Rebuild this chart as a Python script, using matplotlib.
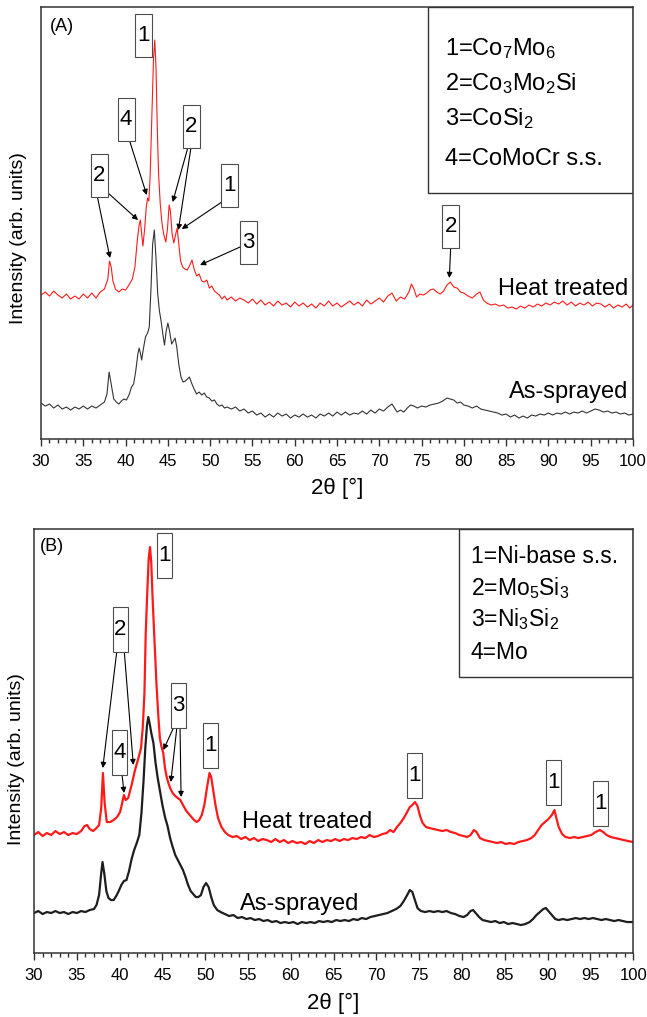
"""XRD patterns of sprayed coatings, as-sprayed vs heat treated (two panels)."""

import matplotlib

matplotlib.use("Agg")
import matplotlib.pyplot as plt
from matplotlib.patches import Rectangle
from matplotlib.ticker import MultipleLocator
from matplotlib.transforms import ScaledTranslation

plt.rcParams["font.family"] = ["Liberation Sans", "DejaVu Sans"]
plt.rcParams["mathtext.default"] = "regular"

# ---- panel A data (2theta in degrees, intensity in arb. units) ----
a_heat_x = [
    30.0, 30.5, 31.0, 31.5, 32.0, 32.5, 33.0, 33.5, 34.0, 34.5, 35.0, 35.5, 36.0, 36.5,
    37.0, 37.5, 37.9, 38.1, 38.3, 38.5, 38.8, 39.2, 39.6, 40.0, 40.4, 40.8, 41.1, 41.4,
    41.6, 41.75, 41.9, 42.05, 42.25, 42.45, 42.6, 42.75, 42.9, 43.1, 43.3, 43.45, 43.6,
    43.75, 43.9, 44.1, 44.3, 44.5, 44.75, 44.95, 45.15, 45.3, 45.5, 45.7, 45.9, 46.1,
    46.3, 46.5, 46.75, 47.0, 47.3, 47.6, 47.85, 48.1, 48.4, 48.7, 49.0, 49.3, 49.6, 49.9,
    50.2, 50.5, 50.8, 51.1, 51.4, 51.7, 52.0, 52.5, 53.0, 53.5, 54.0, 54.5, 55.0, 55.5,
    56.0, 56.5, 57.0, 57.5, 58.0, 58.5, 59.0, 59.5, 60.0, 60.5, 61.0, 61.5, 62.0, 62.5,
    63.0, 63.5, 64.0, 64.5, 65.0, 65.5, 66.0, 66.5, 67.0, 67.5, 68.0, 68.5, 69.0, 69.5,
    70.0, 70.5, 71.0, 71.5, 72.0, 72.5, 73.0, 73.5, 73.8, 74.1, 74.4, 74.8, 75.2, 75.6,
    76.0, 76.4, 76.8, 77.2, 77.6, 78.0, 78.4, 78.8, 79.2, 79.6, 80.0, 80.5, 81.0, 81.5,
    81.9, 82.3, 82.7, 83.2, 83.7, 84.2, 84.7, 85.2, 85.7, 86.2, 86.7, 87.2, 87.7, 88.2,
    88.7, 89.2, 89.7, 90.2, 90.7, 91.2, 91.7, 92.2, 92.7, 93.2, 93.7, 94.2, 94.7, 95.2,
    95.7, 96.2, 96.7, 97.2, 97.7, 98.2, 98.7, 99.2, 99.6, 100.0,
]
a_heat_y = [
    144, 147, 143, 148, 144, 141, 145, 140, 143, 140, 145, 141, 146, 141,
    147, 150, 160, 178, 172, 158, 150, 147, 150, 149, 154, 160, 172, 200,
    214, 219, 205, 193, 210, 232, 241, 238, 262, 320, 380, 399, 370,
    310, 265, 235, 216, 205, 197, 210, 234, 228, 205, 196, 204, 211,
    195, 178, 172, 170, 169, 174, 179, 170, 163, 165, 158, 157, 159, 151,
    153, 148, 146, 144, 140, 143, 139, 142, 138, 141, 139, 136, 140, 135,
    139, 134, 137, 133, 138, 134, 136, 132, 137, 133, 136, 132, 135, 131,
    136, 133, 138, 133, 136, 132, 135, 138, 134, 137, 133, 139, 135, 138,
    141, 137, 143, 146, 138, 142, 140, 147, 155, 150, 142, 145, 144, 146,
    149, 150, 147, 145, 148, 154, 157, 152, 151, 147, 146, 143, 141, 145,
    147, 139, 136, 134, 135, 133, 134, 131, 132, 130, 133, 131, 134, 132,
    135, 133, 136, 134, 137, 135, 138, 134, 137, 133, 136, 134, 137, 133,
    136, 135, 132, 135, 131, 134, 132, 135, 131, 134,
]
a_sprayed_x = [
    30.0, 30.5, 31.0, 31.5, 32.0, 32.5, 33.0, 33.5, 34.0, 34.5, 35.0, 35.5, 36.0, 36.5,
    37.0, 37.5, 37.8, 38.05, 38.3, 38.6, 38.9, 39.2, 39.5, 39.8, 40.1, 40.4, 40.7, 40.95,
    41.2, 41.45, 41.6, 41.75, 41.9, 42.1, 42.35, 42.6, 42.8, 43.0, 43.2, 43.4, 43.6, 43.8,
    44.0, 44.2, 44.4, 44.6, 44.8, 45.0, 45.2, 45.45, 45.65, 45.85, 46.05, 46.3, 46.55,
    46.8, 47.05, 47.3, 47.55, 47.8, 48.1, 48.4, 48.7, 49.0, 49.3, 49.6, 49.9, 50.2, 50.5,
    50.8, 51.1, 51.4, 51.7, 52.0, 52.5, 53.0, 53.5, 54.0, 54.5, 55.0, 55.5, 56.0, 56.5,
    57.0, 57.5, 58.0, 58.5, 59.0, 59.5, 60.0, 60.5, 61.0, 61.5, 62.0, 62.5, 63.0, 63.5,
    64.0, 64.5, 65.0, 65.5, 66.0, 66.5, 67.0, 67.5, 68.0, 68.5, 69.0, 69.5, 70.0, 70.5,
    71.0, 71.5, 71.8, 72.1, 72.5, 72.9, 73.3, 73.7, 74.1, 74.5, 75.0, 75.5, 76.0, 76.5,
    77.0, 77.5, 78.0, 78.4, 78.8, 79.2, 79.6, 80.0, 80.5, 81.0, 81.5, 82.0, 82.5, 83.0,
    83.5, 84.0, 84.5, 85.0, 85.5, 86.0, 86.5, 87.0, 87.5, 88.0, 88.5, 89.0, 89.5, 90.0,
    90.5, 91.0, 91.5, 92.0, 92.5, 93.0, 93.5, 94.0, 94.5, 95.0, 95.5, 96.0, 96.5, 97.0,
    97.5, 98.0, 98.5, 99.0, 99.5, 100.0,
]
a_sprayed_y = [
    36, 33, 35, 31, 34, 30, 32, 29, 32, 30, 33, 30, 33, 31,
    34, 37, 45, 67, 55, 40, 37, 35, 38, 40, 39, 44, 52, 55,
    68, 85, 91, 86, 79, 90, 102, 106, 112, 150, 195, 209, 180, 145,
    128, 118, 105, 94, 108, 116, 108, 95, 98, 101, 92, 74, 62,
    57, 58, 60, 62, 56, 50, 45, 47, 44, 46, 42, 41, 38, 39,
    35, 33, 34, 31, 32, 30, 32, 28, 30, 26, 28, 24, 26, 22,
    25, 22, 26, 23, 25, 21, 24, 22, 25, 22, 24, 21, 25, 23,
    26, 23, 27, 24, 27, 24, 26, 25, 28, 25, 29, 26, 30, 28,
    32, 35, 31, 27, 29, 27, 31, 34, 33, 31, 33, 32, 34, 35,
    36, 38, 41, 40, 39, 36, 37, 34, 33, 31, 33, 30, 29, 28,
    27, 26, 24, 25, 22, 24, 21, 23, 21, 24, 23, 25, 24, 26,
    24, 26, 25, 27, 25, 27, 26, 28, 26, 28, 30, 29, 27, 28,
    26, 27, 25, 26, 24, 25,
]

# ---- panel B data ----
b_heat_x = [
    30.0, 30.5, 31.0, 31.5, 32.0, 32.5, 33.0, 33.5, 34.0, 34.5, 35.0, 35.5, 35.9, 36.2,
    36.5, 36.9, 37.3, 37.6, 37.85, 38.05, 38.25, 38.5, 38.9, 39.3, 39.7, 40.05, 40.3,
    40.5, 40.7, 41.0, 41.4, 41.8, 42.2, 42.5, 42.7, 42.9, 43.05, 43.25, 43.4, 43.55, 43.7,
    43.85, 44.05, 44.3, 44.5, 44.7, 44.9, 45.1, 45.3, 45.5, 45.7, 45.9, 46.2, 46.5, 46.8,
    47.1, 47.4, 47.8, 48.1, 48.4, 48.7, 49.0, 49.3, 49.6, 49.9, 50.2, 50.5, 50.7, 50.95,
    51.2, 51.5, 51.9, 52.3, 52.7, 53.2, 53.7, 54.2, 54.7, 55.2, 55.7, 56.2, 56.7, 57.2,
    57.7, 58.2, 58.7, 59.2, 59.7, 60.2, 60.7, 61.2, 61.7, 62.2, 62.7, 63.2, 63.7, 64.2,
    64.7, 65.2, 65.7, 66.2, 66.7, 67.2, 67.7, 68.2, 68.7, 69.2, 69.7, 70.2, 70.7, 71.2,
    71.6, 72.0, 72.4, 72.8, 73.2, 73.6, 73.9, 74.2, 74.5, 74.8, 75.1, 75.4, 75.8, 76.2,
    76.7, 77.2, 77.7, 78.2, 78.7, 79.2, 79.7, 80.2, 80.6, 81.0, 81.4, 81.7, 82.1, 82.6,
    83.1, 83.6, 84.1, 84.6, 85.1, 85.6, 86.1, 86.6, 87.1, 87.6, 88.1, 88.5, 88.9, 89.3,
    89.7, 90.1, 90.5, 90.8, 91.0, 91.3, 91.7, 92.1, 92.6, 93.1, 93.6, 94.1, 94.6, 95.1,
    95.6, 96.1, 96.5, 96.9, 97.4, 97.9, 98.4, 98.9, 99.4, 100.0,
]
b_heat_y = [
    118, 121, 117, 120, 118, 122, 119, 121, 118, 120, 119, 122, 127, 128,
    124, 122, 125, 128, 145, 180, 150, 131, 131, 133, 136, 141, 150,
    158, 153, 155, 168, 183, 195, 205, 225, 260, 320, 365, 395, 406, 390,
    355, 318, 270, 240, 215, 206, 200, 185, 176, 170, 165, 160, 157, 155,
    153, 148, 142, 139, 136, 133, 131, 133, 138, 148, 165, 180, 176, 162,
    148, 135, 126, 121, 118, 116, 117, 114, 116, 113, 115, 112, 114, 113,
    111, 114, 111, 113, 110, 112, 110, 111, 109, 112, 110, 113, 111, 113,
    112, 114, 112, 114, 113, 115, 114, 116, 115, 118, 116, 117, 119, 120,
    123, 121, 126, 130, 135, 141, 146, 148, 151, 147, 137, 130, 126, 125,
    124, 123, 122, 123, 121, 120, 118, 117, 116, 118, 123, 121, 115, 113,
    112, 111, 110, 111, 109, 110, 109, 111, 112, 113, 115, 118, 123, 128,
    131, 134, 138, 143, 136, 126, 119, 116, 115, 116, 115, 116, 117, 118,
    121, 123, 121, 118, 116, 115, 114, 113, 112, 111,
]
b_sprayed_x = [
    30.0, 30.5, 31.0, 31.5, 32.0, 32.5, 33.0, 33.5, 34.0, 34.5, 35.0, 35.5, 36.0, 36.5,
    37.0, 37.3, 37.6, 37.85, 38.0, 38.2, 38.45, 38.7, 39.0, 39.3, 39.6, 39.9, 40.2, 40.5,
    40.8, 41.1, 41.4, 41.7, 42.0, 42.3, 42.55, 42.8, 43.0, 43.2, 43.35, 43.5, 43.7, 43.95,
    44.2, 44.45, 44.7, 45.0, 45.3, 45.6, 45.9, 46.2, 46.5, 46.8, 47.1, 47.4, 47.7, 48.0,
    48.3, 48.6, 48.9, 49.2, 49.5, 49.8, 50.1, 50.4, 50.7, 51.0, 51.4, 51.8, 52.3, 52.8,
    53.3, 53.8, 54.3, 54.8, 55.3, 55.8, 56.3, 56.8, 57.3, 57.8, 58.3, 58.8, 59.3, 59.8,
    60.3, 60.8, 61.3, 61.8, 62.3, 62.8, 63.3, 63.8, 64.3, 64.8, 65.3, 65.8, 66.3, 66.8,
    67.3, 67.8, 68.3, 68.8, 69.3, 69.8, 70.3, 70.8, 71.3, 71.8, 72.3, 72.8, 73.2, 73.6,
    73.9, 74.2, 74.5, 74.8, 75.2, 75.7, 76.2, 76.7, 77.2, 77.7, 78.2, 78.7, 79.2, 79.7,
    80.2, 80.6, 81.0, 81.3, 81.6, 82.0, 82.4, 82.9, 83.4, 83.9, 84.4, 84.9, 85.4, 85.9,
    86.4, 86.9, 87.4, 87.9, 88.3, 88.7, 89.1, 89.5, 89.8, 90.1, 90.5, 90.9, 91.3, 91.8,
    92.3, 92.8, 93.3, 93.8, 94.3, 94.8, 95.3, 95.8, 96.3, 96.8, 97.3, 97.8, 98.3, 98.8,
    99.3, 100.0,
]
b_sprayed_y = [
    40, 42, 39, 41, 40, 42, 40, 41, 39, 41, 40, 42, 41, 43,
    44, 48, 58, 80, 91, 80, 62, 55, 53, 53, 57, 62, 68, 72,
    73, 82, 94, 103, 110, 118, 140, 173, 205, 228, 236, 230, 220, 210,
    190, 175, 163, 148, 136, 127, 115, 106, 98, 93, 88, 83, 76, 68,
    62, 59, 56, 56, 58, 66, 70, 66, 56, 48, 43, 41, 39, 37,
    38, 35, 36, 34, 35, 33, 34, 32, 33, 31, 32, 30, 31, 30,
    31, 29, 31, 30, 31, 30, 32, 31, 32, 31, 33, 32, 33, 32,
    34, 33, 35, 34, 36, 37, 38, 39, 40, 42, 44, 47, 52, 58,
    63, 61, 53, 45, 42, 41, 42, 41, 42, 41, 42, 40, 39, 37,
    36, 38, 42, 43, 40, 36, 33, 32, 31, 32, 30, 31, 29, 30,
    29, 28, 29, 31, 34, 38, 41, 44, 45, 42, 38, 34, 33, 34,
    33, 34, 35, 34, 35, 34, 35, 34, 33, 34, 33, 32, 33, 32,
    31, 31,
]

# ---- phase legends ----
a_phases = [r"1=Co$_7$Mo$_6$", r"2=Co$_3$Mo$_2$Si", r"3=CoSi$_2$", "4=CoMoCr s.s."]
b_phases = ["1=Ni-base s.s.", r"2=Mo$_5$Si$_3$", r"3=Ni$_3$Si$_2$", "4=Mo"]

# ---- peak tags: (label, box x, box y) and arrows: (start x, start y, tip x, tip y) ----
a_tags = [("1", 42.06, 404), ("4", 40.05, 320), ("2", 36.86, 264), ("2", 47.74, 313),
          ("1", 52.23, 254), ("3", 54.48, 197), ("2", 78.44, 213)]
a_arrows = [(40.52, 297, 42.50, 244), (36.62, 244, 38.16, 181), (37.80, 247, 41.47, 219),
            (47.38, 292, 45.57, 237), (47.74, 292, 46.24, 209), (51.37, 237, 46.64, 210),
            (53.53, 192, 48.80, 174), (78.44, 192, 78.28, 161)]
b_tags = [("1", 45.19, 398), ("2", 40.05, 324), ("4", 39.97, 201), ("3", 46.86, 248),
          ("1", 50.65, 208), ("1", 74.41, 178), ("1", 90.69, 171), ("1", 96.14, 150)]
b_arrows = [(39.66, 301, 38.03, 185), (40.55, 301, 41.60, 188), (40.25, 181, 40.52, 160),
            (46.28, 225, 45.11, 203), (46.68, 225, 45.98, 171), (47.06, 225, 47.18, 156)]

RED = "#ff1a1a"
DARK = "#1e1e1e"


def _tag(ax, x, y, label, w, h):
    """Draw a boxed peak tag centred on (x, y) with a fixed size in inches."""
    trans = ax.figure.dpi_scale_trans + ScaledTranslation(x, y, ax.transData)
    box = Rectangle((-w / 2, -h / 2), w, h, transform=trans, facecolor="white",
                    edgecolor="0.3", linewidth=0.8, zorder=4, clip_on=False)
    ax.add_artist(box)
    ax.text(x, y, label, ha="center", va="center", fontsize=16, zorder=5)


def _arrow(ax, x0, y0, x1, y1):
    ax.annotate("", xy=(x1, y1), xytext=(x0, y0),
                arrowprops=dict(arrowstyle="-|>", color="black", lw=0.8,
                                mutation_scale=8, shrinkA=0, shrinkB=0), zorder=3)


def _style_axes(ax, ytop, labelpad):
    ax.set_xlim(30, 100)
    ax.set_ylim(0, ytop)
    ax.set_yticks([])
    ax.xaxis.set_major_locator(MultipleLocator(5))
    ax.xaxis.set_minor_locator(MultipleLocator(1))
    ax.tick_params(axis="x", which="major", direction="out", length=5, width=1,
                   labelsize=12, pad=6, color="0.2")
    ax.tick_params(axis="x", which="minor", direction="out", length=3, width=1, color="0.2")
    for spine in ax.spines.values():
        spine.set_linewidth(1.1)
        spine.set_color("0.2")
    ax.set_xlabel("2θ [°]", fontsize=16, labelpad=labelpad)
    ax.set_ylabel("Intensity (arb. units)", fontsize=14)


fig = plt.figure(figsize=(6.47, 10.17), dpi=100)

# panel A
ax_a = fig.add_axes([0.0634, 0.5683, 0.915, 0.4248])
ax_a.plot(a_heat_x, a_heat_y, color=RED, lw=0.8)
ax_a.plot(a_sprayed_x, a_sprayed_y, color="#333333", lw=0.8)
_style_axes(ax_a, 432, 6)
ax_a.yaxis.set_label_coords(-0.024, 0.465)
ax_a.text(0.015, 0.975, "(A)", transform=ax_a.transAxes, fontsize=13, va="top")
ax_a.add_patch(Rectangle((0.654, 0.569), 0.346, 0.431, transform=ax_a.transAxes,
                         fill=False, edgecolor="0.2", linewidth=1.0))
for text, yb in zip(a_phases, [0.889, 0.808, 0.727, 0.634]):
    ax_a.text(0.682, yb, text, transform=ax_a.transAxes, fontsize=17, va="baseline")
ax_a.text(0.9916, 0.333, "Heat treated", transform=ax_a.transAxes, fontsize=17,
          ha="right", va="baseline")
ax_a.text(0.9916, 0.095, "As-sprayed", transform=ax_a.transAxes, fontsize=17,
          ha="right", va="baseline")
for x0, y0, x1, y1 in a_arrows:
    _arrow(ax_a, x0, y0, x1, y1)
for label, x, y in a_tags:
    _tag(ax_a, x, y, label, 0.17, 0.43)

# panel B
ax_b = fig.add_axes([0.0526, 0.0629, 0.926, 0.4169])
ax_b.plot(b_heat_x, b_heat_y, color=RED, lw=1.6)
ax_b.plot(b_sprayed_x, b_sprayed_y, color=DARK, lw=1.6)
_style_axes(ax_b, 424, 7)
ax_b.yaxis.set_label_coords(-0.015, 0.458)
ax_b.text(0.010, 0.979, "(B)", transform=ax_b.transAxes, fontsize=13, va="top")
ax_b.add_patch(Rectangle((0.710, 0.652), 0.290, 0.348, transform=ax_b.transAxes,
                         fill=False, edgecolor="0.2", linewidth=1.0))
for text, yb in zip(b_phases, [0.921, 0.844, 0.770, 0.693]):
    ax_b.text(0.729, yb, text, transform=ax_b.transAxes, fontsize=16.5, va="baseline")
ax_b.text(0.347, 0.294, "Heat treated", transform=ax_b.transAxes, fontsize=17,
          va="baseline")
ax_b.text(0.344, 0.101, "As-sprayed", transform=ax_b.transAxes, fontsize=17,
          va="baseline")
for x0, y0, x1, y1 in b_arrows:
    _arrow(ax_b, x0, y0, x1, y1)
for label, x, y in b_tags:
    _tag(ax_b, x, y, label, 0.15, 0.45)

fig.savefig("out.png", dpi=100)
